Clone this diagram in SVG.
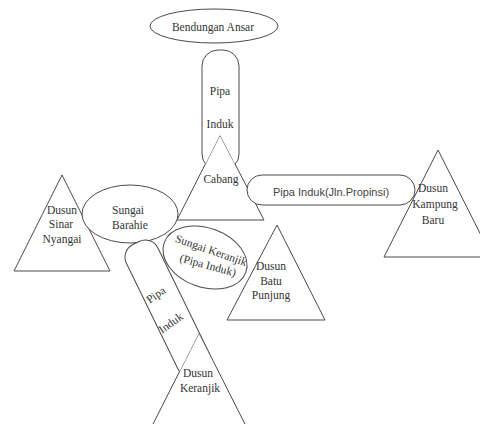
<svg xmlns="http://www.w3.org/2000/svg" width="480" height="424" viewBox="0 0 480 424">
<style>
.s{fill:#fff;stroke:#4a4a4a;stroke-width:1}
.t{font-family:'Liberation Serif','Tinos','Times New Roman','DejaVu Serif',serif;font-size:11.5px;fill:#333;text-anchor:middle}
.a{font-family:'Liberation Sans',Arial,sans-serif;font-size:11px;fill:#444;text-anchor:middle}
</style>
<defs>
  <clipPath id="notCabang"><path clip-rule="evenodd" d="M0,0H480V424H0Z M220,135L264,220L177,220Z"/></clipPath>
  <clipPath id="notKeranjik"><path clip-rule="evenodd" d="M0,0H480V424H0Z M199,333L249,432L149,432Z"/></clipPath>
</defs>
<rect width="480" height="424" fill="#fff"/>
<g id="bendungan-ansar">
  <ellipse class="s" cx="214" cy="26" rx="64" ry="17"/>
  <text class="t" x="213" y="31">Bendungan Ansar</text>
</g>
<g id="cabang">
  <polygon class="s" points="220,135 264,220 177,220"/>
  <text class="t" x="221" y="183">Cabang</text>
</g>
<g id="dusun-kampung-baru">
  <polygon class="s" points="438,150 492,257 384,257"/>
  <text class="t" x="433" y="192">Dusun</text>
  <text class="t" x="435" y="208">Kampung</text>
  <text class="t" x="433" y="224">Baru</text>
</g>
<g id="dusun-sinar-nyangai">
  <polygon class="s" points="62,175 110,271 14,271"/>
  <text class="t" x="62" y="214">Dusun</text>
  <text class="t" x="61" y="228">Sinar</text>
  <text class="t" x="62" y="243">Nyangai</text>
</g>
<g id="sungai-barahie">
  <ellipse class="s" cx="130" cy="214" rx="48" ry="29"/>
  <text class="t" x="128" y="214">Sungai</text>
  <text class="t" x="130" y="229">Barahie</text>
</g>
<g id="sungai-keranjik">
  <ellipse class="s" cx="205" cy="257.5" rx="43.4" ry="29.6" transform="rotate(20 205 257.5)"/>
  <text class="t" transform="translate(210 254) rotate(19)">Sungai Keranjik</text>
  <text class="t" transform="translate(207 269) rotate(15)">(Pipa Induk)</text>
</g>
<g id="dusun-batu-punjung">
  <polygon class="s" points="277,225 325,320 227,320"/>
  <text class="t" x="271" y="270">Dusun</text>
  <text class="t" x="271" y="285">Batu</text>
  <text class="t" x="271" y="299">Punjung</text>
</g>
<g id="dusun-keranjik">
  <polygon class="s" points="199,333 249,432 149,432"/>
  <text class="t" x="198" y="377">Dusun</text>
  <text class="t" x="200" y="392">Keranjik</text>
</g>
<g id="connectors">
  <g id="pipa-induk-vertical">
    <g clip-path="url(#notCabang)">
      <rect class="s" x="202" y="50" width="37" height="120" rx="16"/>
    </g>
    <text class="t" x="220" y="95">Pipa</text>
    <text class="t" x="220" y="128">Induk</text>
  </g>
  <g id="pipa-induk-propinsi">
    <rect class="s" x="247" y="175" width="168" height="30" rx="15"/>
    <text class="a" x="331" y="196">Pipa Induk(Jln.Propinsi)</text>
  </g>
  <g id="pipa-induk-diagonal">
    <g clip-path="url(#notKeranjik)">
      <rect class="s" x="-17.5" y="0" width="35" height="145" rx="14" transform="translate(136 243) rotate(-26)"/>
    </g>
    <text class="t" transform="translate(158 298) rotate(-35)">Pipa</text>
    <text class="t" transform="translate(173 326) rotate(-35)">Induk</text>
  </g>
</g>
</svg>
